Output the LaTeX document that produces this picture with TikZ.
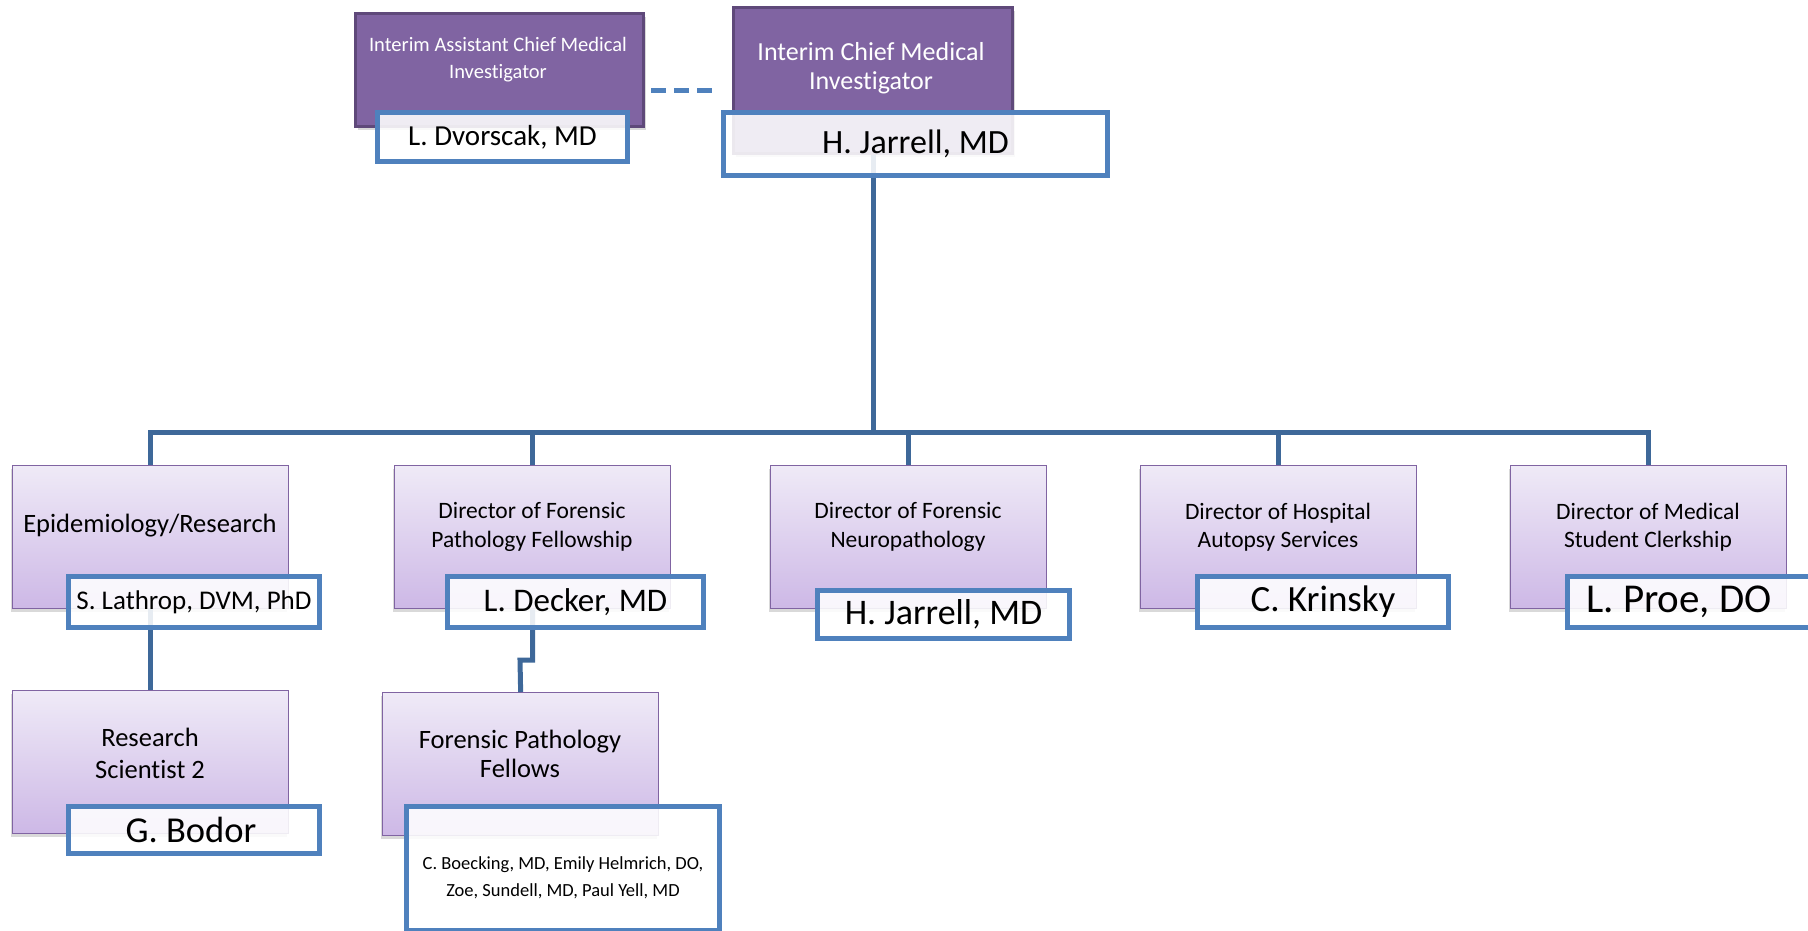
\documentclass[tikz,border=0pt]{standalone}
\usepackage{fontspec}
\setmainfont{Carlito}[Ligatures=NoCommon]
\usetikzlibrary{shadows}
\definecolor{purpleA}{HTML}{8064A2}
\definecolor{purpleB}{HTML}{5F497A}
\definecolor{lavtop}{HTML}{EFEAF7}
\definecolor{lavbot}{HTML}{CDB8E6}
\definecolor{namebd}{HTML}{4F81BD}
\definecolor{connc}{HTML}{3E6899}
\begin{document}
\begin{tikzpicture}[x=1pt,y=-1pt,
  topbox/.style={draw=purpleB, line width=3pt, fill=purpleA, rectangle, anchor=north west, inner sep=0pt,
    drop shadow={shadow xshift=2pt, shadow yshift=-3pt, opacity=0.3}},
  rowbox/.style={draw=purpleA, line width=1.3pt, top color=lavtop, bottom color=lavbot, rectangle, anchor=north west, inner sep=0pt,
    minimum width=276pt, minimum height=143pt,
    drop shadow={shadow xshift=-2pt, shadow yshift=-3pt, opacity=0.3}},
  namebox/.style={draw=namebd, line width=5pt, fill=white, fill opacity=0.88, text opacity=1, rectangle, anchor=north west, inner sep=0pt, align=center},
  conn/.style={draw=connc, line width=5pt},
  toptxt/.style={text=white, align=center, inner sep=0pt},
  rowtxt/.style={text=black, align=center, inner sep=0pt, font={\fontsize{23.5pt}{28.5pt}\selectfont}},
]
\useasboundingbox (0,0) rectangle (1808,930);

% top boxes
\node[topbox, minimum width=288pt, minimum height=113pt] (ac) at (354,12) {};
\node[topbox, minimum width=279pt, minimum height=146pt] (cm) at (732,6) {};
\node[toptxt, font={\fontsize{20.5pt}{27pt}\selectfont}] (act) at (498,60) {Interim Assistant Chief Medical\\Investigator};
\node[toptxt, font={\fontsize{26pt}{29.5pt}\selectfont}] (cmt) at (871,68) {Interim Chief Medical\\Investigator};

% row boxes
\node[rowbox] (r1) at (12,465) {};
\node[rowbox] (r2) at (394,465) {};
\node[rowbox] (r3) at (770,465) {};
\node[rowbox] (r4) at (1140,465) {};
\node[rowbox] (r5) at (1510,465) {};
\node[rowtxt, font={\fontsize{26.5pt}{30pt}\selectfont}] (r1t) at (150,526) {Epidemiology/Research};
\node[rowtxt] (r2t) at (532,527) {Director of Forensic\\Pathology Fellowship};
\node[rowtxt] (r3t) at (908,527) {Director of Forensic\\Neuropathology};
\node[rowtxt] (r4t) at (1278,527) {Director of Hospital\\Autopsy Services};
\node[rowtxt] (r5t) at (1648,527) {Director of Medical\\Student Clerkship};

\node[rowbox] (rs) at (12,690) {};
\node[rowbox] (fp) at (382,692) {};
\node[rowtxt, font={\fontsize{26.5pt}{32pt}\selectfont}] (rst) at (150,753) {Research\\Scientist 2};
\node[rowtxt, font={\fontsize{26.5pt}{29pt}\selectfont}] (fpt) at (520,754) {Forensic Pathology\\Fellows};

% connectors
\coordinate (busL) at (150,432);
\coordinate (jog) at (520,660);
\draw[conn] (cm.south) -- (cm.south |- busL);
\draw[conn] (r1.north) |- (r5.north |- busL) -- (r5.north);
\draw[conn] (r2.north |- busL) -- (r2.north);
\draw[conn] (r3.north |- busL) -- (r3.north);
\draw[conn] (r4.north |- busL) -- (r4.north);
\draw[conn] (r1.south) -- (rs.north);
\draw[conn] (r2.south) |- (jog) -- (fp.north);
\draw[draw=namebd, line width=5pt, dash pattern=on 15pt off 8pt] ([yshift=-20pt]ac.east) ++(6,0) -- ++(64,0);

% name boxes
\node[namebox, minimum width=250pt, minimum height=49pt, font={\fontsize{29pt}{32pt}\selectfont}] (ndv) at (375,110) {L. Dvorscak, MD};
\node[namebox, minimum width=384pt, minimum height=63pt, font={\fontsize{34pt}{38pt}\selectfont}] (nhj) at (721,110) {H. Jarrell, MD};
\node[namebox, minimum width=251pt, minimum height=51pt, font={\fontsize{27pt}{30pt}\selectfont}] (n1) at (66,574) {S. Lathrop, DVM, PhD};
\node[namebox, minimum width=256pt, minimum height=51pt, font={\fontsize{33pt}{36pt}\selectfont}] (n2) at (445,574) {L. Decker, MD};
\node[namebox, minimum width=252pt, minimum height=48pt, font={\fontsize{36pt}{40pt}\selectfont}] (n3) at (815,588) {H. Jarrell, MD};
\node[namebox, minimum width=251pt, minimum height=51pt, font={\fontsize{37pt}{40pt}\selectfont}] (n4) at (1195,574) {C. Krinsky};
\node[namebox, minimum width=251pt, minimum height=51pt, font={\fontsize{41pt}{42pt}\selectfont}] (n5) at (1565,574) {L. Proe, DO\hspace*{28pt}};
\node[namebox, minimum width=251pt, minimum height=47pt, font={\fontsize{36.5pt}{40pt}\selectfont}] (nbo) at (66,804) {G. Bodor\hspace*{6pt}};
\node[namebox, minimum width=313pt, minimum height=124pt, font={\fontsize{18.5pt}{27pt}\selectfont}] (nfe) at (404,804) {\rule{0pt}{31pt}C. Boecking, MD, Emily Helmrich, DO,\\Zoe, Sundell, MD, Paul Yell, MD};
\end{tikzpicture}
\end{document}
